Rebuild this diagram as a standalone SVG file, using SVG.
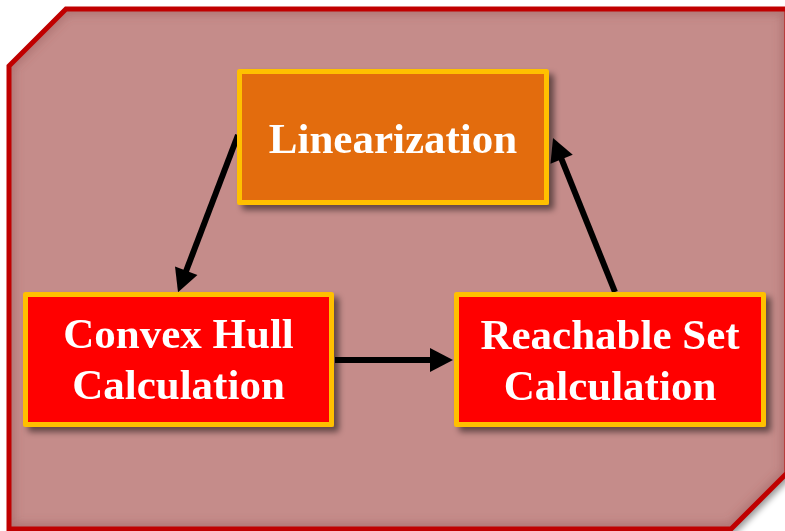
<svg xmlns="http://www.w3.org/2000/svg" width="785" height="531" viewBox="0 0 785 531">
  <style>
    .label { font-family: "Liberation Serif", "Times New Roman", serif; font-weight: bold; font-size: 43px; fill: #FFFFFF; text-anchor: middle; }
    .box { stroke: #FFC000; stroke-width: 5; stroke-linejoin: round; }
    .wire { stroke: #000000; stroke-width: 6; fill: none; }
  </style>
  <defs>
    <filter id="boxShadow" x="-10%" y="-10%" width="130%" height="130%">
      <feGaussianBlur in="SourceAlpha" stdDeviation="3"/>
      <feOffset dx="5" dy="5" result="blur"/>
      <feComponentTransfer><feFuncA type="linear" slope="0.5"/></feComponentTransfer>
      <feMerge><feMergeNode/><feMergeNode in="SourceGraphic"/></feMerge>
    </filter>
    <filter id="panelShadow" x="-10%" y="-10%" width="130%" height="130%">
      <feGaussianBlur in="SourceAlpha" stdDeviation="3"/>
      <feOffset dx="4" dy="5"/>
      <feComponentTransfer><feFuncA type="linear" slope="0.4"/></feComponentTransfer>
      <feMerge><feMergeNode/><feMergeNode in="SourceGraphic"/></feMerge>
    </filter>
    <filter id="soft"><feGaussianBlur stdDeviation="4"/></filter>
    <clipPath id="panelClip">
      <path d="M66,9 L787,9 L787,473 L731,529 L9,529 L9,66 Z"/>
    </clipPath>
    <marker id="head" markerUnits="userSpaceOnUse" markerWidth="24" markerHeight="24" refX="11" refY="12" orient="auto" overflow="visible">
      <path d="M0,0 L23,12 L0,24 Z" fill="#000000"/>
    </marker>
  </defs>

  <!-- background panel: octagon with two cut corners -->
  <g id="panel">
    <path d="M66,9 L787,9 L787,473 L731,529 L9,529 L9,66 Z" fill="#C58C8A" filter="url(#panelShadow)"/>
    <g clip-path="url(#panelClip)">
      <path d="M66,9 L787,9 L787,473 L731,529 L9,529 L9,66 Z" fill="none" stroke="#8A4A48" stroke-opacity="0.35" stroke-width="12" filter="url(#soft)"/>
    </g>
    <path d="M66,9 L787,9 L787,473 L731,529 L9,529 L9,66 Z" fill="none" stroke="#C00000" stroke-width="5"/>
  </g>

  <!-- connectors -->
  <g id="connectors">
    <line class="wire" x1="238" y1="135" x2="182.3" y2="281" marker-end="url(#head)"/>
    <line class="wire" x1="615" y1="292" x2="557.5" y2="149.1" marker-end="url(#head)"/>
    <line class="wire" x1="335" y1="360" x2="441" y2="360" marker-end="url(#head)"/>
  </g>

  <g id="linearization" filter="url(#boxShadow)">
    <rect class="box" x="239.5" y="71.5" width="307" height="131" fill="#E36C0A"/>
    <text class="label" x="393" y="153">Linearization</text>
  </g>

  <g id="convex-hull" filter="url(#boxShadow)">
    <rect class="box" x="25.5" y="294.5" width="306" height="130" fill="#FF0000"/>
    <text class="label" x="178.5" y="348">Convex Hull</text>
    <text class="label" x="178.5" y="399">Calculation</text>
  </g>

  <g id="reachable-set" filter="url(#boxShadow)">
    <rect class="box" x="456.5" y="294.5" width="307" height="130" fill="#FF0000"/>
    <text class="label" x="610" y="349">Reachable Set</text>
    <text class="label" x="610" y="400">Calculation</text>
  </g>
</svg>
